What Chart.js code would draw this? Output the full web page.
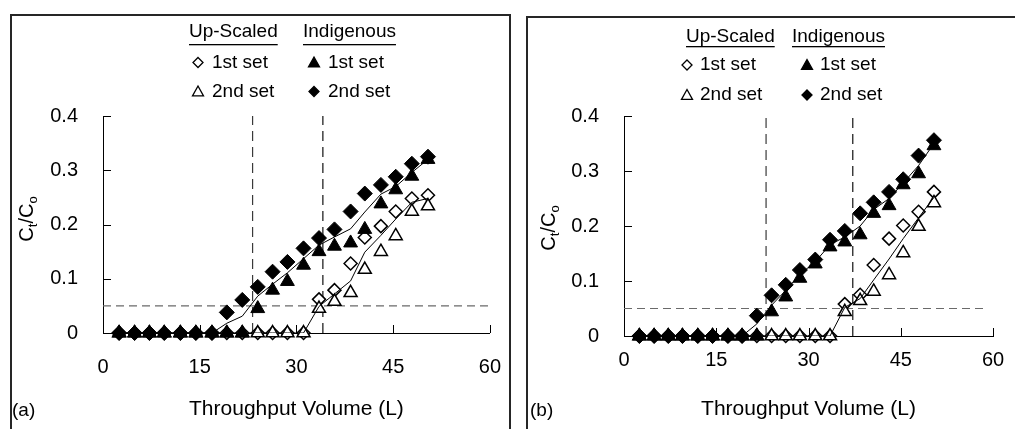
<!DOCTYPE html>
<html>
<head>
<meta charset="utf-8">
<script src="https://cdn.jsdelivr.net/npm/chart.js"></script>
<style>
  body { margin: 0; background: #fff; }
  #page { position: relative; width: 1015px; height: 429px; overflow: hidden; }
  .frame { position: absolute; border: 2px solid #262626; border-bottom: none; box-sizing: border-box; height: 440px; }
  #frameA { left: 10px; top: 14px; width: 501px; }
  #frameB { left: 526px; top: 16px; width: 520px; }
  canvas { position: absolute; top: 0; }
  #chartA { left: 0; }
  #chartB { left: 515px; }
</style>
</head>
<body>
<div id="page">
  <div class="frame" id="frameA"></div>
  <div class="frame" id="frameB"></div>
  <canvas id="chartA" width="515" height="429"></canvas>
  <canvas id="chartB" width="500" height="429"></canvas>
</div>
<script>
// throughput volume (L) of each sample
const volume = [2.5, 4.9, 7.2, 9.5, 12.0, 14.4, 16.9, 19.2, 21.6, 24.0, 26.3, 28.6, 31.1, 33.5, 35.9, 38.4, 40.6, 43.1, 45.4, 47.9, 50.4];

// panel (a)  Ct/Co
const upA1 = [0, 0, 0, 0, 0, 0, 0, 0, 0, 0, 0, 0, 0, 0.062, 0.079, 0.128, 0.176, 0.197, 0.224, 0.248, 0.254];
const upA2 = [0, 0, 0, 0, 0, 0, 0, 0, 0, 0, 0, 0, 0, 0.045, 0.058, 0.074, 0.117, 0.150, 0.179, 0.224, 0.234];
const indA1 = [0, 0, 0, 0, 0, 0, 0, 0, 0, 0.045, 0.079, 0.095, 0.125, 0.150, 0.160, 0.166, 0.191, 0.238, 0.264, 0.289, 0.320];
const indA2 = [0, 0, 0, 0, 0, 0, 0, 0.038, 0.061, 0.085, 0.113, 0.131, 0.156, 0.175, 0.191, 0.224, 0.257, 0.273, 0.288, 0.312, 0.325];
const fitIndA = [0, 0, 0, 0, 0, 0, 0, 0.018, 0.031, 0.068, 0.090, 0.111, 0.137, 0.162, 0.177, 0.192, 0.223, 0.256, 0.270, 0.296, 0.320];
const fitUpA = [0, 0, 0, 0, 0, 0, 0, 0, 0, 0, 0, 0, 0, 0.049, 0.072, 0.096, 0.149, 0.180, 0.210, 0.241, 0.248];

// panel (b)
const upB1 = [0, 0, 0, 0, 0, 0, 0, 0, 0, 0, 0, 0, 0, 0, 0.058, 0.075, 0.129, 0.177, 0.201, 0.226, 0.262];
const upB2 = [0, 0, 0, 0, 0, 0, 0, 0, 0, 0, 0, 0, 0, 0, 0.044, 0.064, 0.081, 0.111, 0.151, 0.199, 0.242];
const indB1 = [0, 0, 0, 0, 0, 0, 0, 0, 0, 0.044, 0.071, 0.105, 0.131, 0.162, 0.171, 0.184, 0.223, 0.237, 0.275, 0.295, 0.346];
const indB2 = [0, 0, 0, 0, 0, 0, 0, 0, 0.037, 0.074, 0.093, 0.120, 0.139, 0.175, 0.191, 0.223, 0.243, 0.262, 0.285, 0.328, 0.356];
const fitIndB = [0, 0, 0, 0, 0, 0, 0, 0, 0.022, 0.056, 0.083, 0.112, 0.135, 0.166, 0.180, 0.200, 0.230, 0.250, 0.278, 0.310, 0.350];
const fitUpB = [0, 0, 0, 0, 0, 0, 0, 0, 0, 0, 0, 0, 0, 0, 0.052, 0.068, 0.102, 0.140, 0.177, 0.215, 0.252];

// breakthrough guides
const threshold = 0.05;
const breakA = [23.2, 34.1];
const breakB = [23.1, 37.2];

const xTicks = [0, 15, 30, 45, 60];
const yTicks = [0, 0.1, 0.2, 0.3, 0.4];
const legendHeads = ['Up-Scaled', 'Indigenous'];
const legendRows = ['1st set', '2nd set'];

const FONT = '"Liberation Sans", Arial, sans-serif';
Chart.defaults.font.family = FONT;
Chart.defaults.font.size = 20;
Chart.defaults.color = '#000';

function pts(ys) {
    return volume.map((v, i) => ({ x: v, y: ys[i] }));
}

function drawMarker(ctx, shape, filled, x, y, r) {
    ctx.beginPath();
    if (shape === 'diamond') {
        ctx.moveTo(x, y - r); ctx.lineTo(x + r, y); ctx.lineTo(x, y + r); ctx.lineTo(x - r, y);
    } else {
        ctx.moveTo(x, y - r); ctx.lineTo(x + r, y + r * 0.8); ctx.lineTo(x - r, y + r * 0.8);
    }
    ctx.closePath();
    ctx.fillStyle = filled ? '#000' : '#fff';
    ctx.fill();
    ctx.lineWidth = 1.3;
    ctx.strokeStyle = '#000';
    ctx.stroke();
}

// inner tick marks, y title with subscripts, legend block and panel letter
const panelDecor = {
    id: 'panelDecor',
    afterDraw(chart, args, o) {
        const ctx = chart.ctx;
        const xs = chart.scales.x, ys = chart.scales.y;
        ctx.save();
        ctx.strokeStyle = '#000';
        ctx.lineWidth = 1;
        ctx.beginPath();
        xs.ticks.forEach(t => {
            if (t.value === 0) return;
            const px = Math.round(xs.getPixelForValue(t.value)) + 0.5;
            ctx.moveTo(px, ys.bottom);
            ctx.lineTo(px, ys.bottom - 8);
        });
        ys.ticks.forEach(t => {
            if (t.value === 0) return;
            const py = Math.round(ys.getPixelForValue(t.value)) + 0.5;
            ctx.moveTo(xs.left, py);
            ctx.lineTo(xs.left + 8, py);
        });
        ctx.stroke();

        // Ct/Co rotated
        ctx.fillStyle = '#000';
        ctx.textBaseline = 'alphabetic';
        const big = '20px ' + FONT, small = '13px ' + FONT;
        const parts = [['C', big, 0], ['t', small, 4], ['/C', big, 0], ['o', small, 4]];
        let total = 0;
        parts.forEach(p => { ctx.font = p[1]; total += ctx.measureText(p[0]).width; });
        ctx.save();
        ctx.translate(o.yTitle.x, o.yTitle.y);
        ctx.rotate(-Math.PI / 2);
        let cx = -total / 2;
        parts.forEach(p => {
            ctx.font = p[1];
            ctx.fillText(p[0], cx, p[2]);
            cx += ctx.measureText(p[0]).width;
        });
        ctx.restore();

        // legend
        const lg = o.legend;
        ctx.font = '19px ' + FONT;
        ctx.textAlign = 'left';
        ctx.textBaseline = 'middle';
        lg.cols.forEach((col, c) => {
            ctx.fillText(legendHeads[c], col.head, lg.headY);
            const w = ctx.measureText(legendHeads[c]).width;
            ctx.fillRect(col.head, lg.lineY, w, 1.3);
            legendRows.forEach((txt, r) => {
                const shape = (c + r) % 2 === 0 ? 'diamond' : 'triangle';
                drawMarker(ctx, shape, c === 1, col.marker, lg.rowY[r], shape === 'diamond' ? 5 : 5.5);
                ctx.fillStyle = '#000';
                ctx.fillText(txt, col.text, lg.rowY[r]);
            });
        });

        ctx.font = '19px ' + FONT;
        ctx.textBaseline = 'alphabetic';
        ctx.fillText(o.letter.text, o.letter.x, o.letter.y);
        ctx.restore();
    }
};

function makeChart(id, d, look) {
    const guide = (pts2, color, dash) => ({
        data: pts2, showLine: true, borderColor: color, borderWidth: 1.2,
        borderDash: dash, pointRadius: 0, order: 9
    });
    const marker = (ys, style, r, filled, order) => ({
        data: pts(ys), showLine: false, pointStyle: style, pointRadius: r,
        backgroundColor: filled ? '#000' : '#fff', borderColor: '#000',
        borderWidth: filled ? 1 : 1.5, clip: false, order: order
    });
    const fit = ys => ({
        data: pts(ys), showLine: true, borderColor: '#000', borderWidth: 1,
        pointRadius: 0, tension: 0, order: 0
    });

    return new Chart(document.getElementById(id), {
        type: 'scatter',
        data: {
            datasets: [
                guide([{ x: 0, y: threshold }, { x: look.hEnd, y: threshold }], '#6a6a6a', [8, 5]),
                guide([{ x: d.brk[0], y: 0 }, { x: d.brk[0], y: 0.4 }], '#3a3a3a', [10, 6]),
                guide([{ x: d.brk[1], y: 0 }, { x: d.brk[1], y: 0.4 }], '#111', [10, 6]),
                marker(d.up1, 'rectRot', 6.5, false, 6),
                marker(d.up2, 'triangle', 7.5, false, 5),
                marker(d.ind1, 'triangle', 8, true, 3),
                marker(d.ind2, 'rectRot', 7.5, true, 2),
                fit(d.fitUp),
                fit(d.fitInd)
            ]
        },
        options: {
            responsive: false,
            animation: false,
            events: [],
            layout: { padding: { left: 0, right: look.padRight, top: 116, bottom: 0 } },
            plugins: {
                legend: { display: false },
                tooltip: { enabled: false },
                panelDecor: look.decor
            },
            scales: {
                x: {
                    type: 'linear', min: 0, max: 60,
                    afterBuildTicks: s => { s.ticks = xTicks.map(v => ({ value: v })); },
                    afterFit: s => { s.height = look.xHeight; },
                    grid: { display: false },
                    border: { color: '#000', width: 1 },
                    ticks: { padding: look.xPad, maxRotation: 0 },
                    title: { display: true, text: 'Throughput Volume (L)', font: { size: 21 }, padding: { top: 0, bottom: 7 } }
                },
                y: {
                    type: 'linear', min: 0, max: 0.4,
                    afterBuildTicks: s => { s.ticks = yTicks.map(v => ({ value: v })); },
                    afterFit: s => { s.width = look.yWidth; },
                    grid: { display: false },
                    border: { color: '#000', width: 1 },
                    ticks: { padding: 17 }
                }
            }
        },
        plugins: [panelDecor]
    });
}

makeChart('chartA',
    { up1: upA1, up2: upA2, ind1: indA1, ind2: indA2, fitUp: fitUpA, fitInd: fitIndA, brk: breakA },
    {
        hEnd: 60, padRight: 23, xHeight: 96, yWidth: 103, xPad: 14,
        decor: {
            yTitle: { x: 33, y: 219 },
            letter: { text: '(a)', x: 12, y: 416 },
            legend: {
                headY: 32, lineY: 44, rowY: [62.5, 91.5],
                cols: [{ head: 189, marker: 198, text: 212 }, { head: 303, marker: 314, text: 328 }]
            }
        }
    });

makeChart('chartB',
    { up1: upB1, up2: upB2, ind1: indB1, ind2: indB2, fitUp: fitUpB, fitInd: fitIndB, brk: breakB },
    {
        hEnd: 59, padRight: 22, xHeight: 93, yWidth: 109, xPad: 4,
        decor: {
            yTitle: { x: 40, y: 228 },
            letter: { text: '(b)', x: 15, y: 416 },
            legend: {
                headY: 37, lineY: 46, rowY: [65, 95],
                cols: [{ head: 171, marker: 172, text: 185 }, { head: 277, marker: 292, text: 305 }]
            }
        }
    });
</script>
</body>
</html>
